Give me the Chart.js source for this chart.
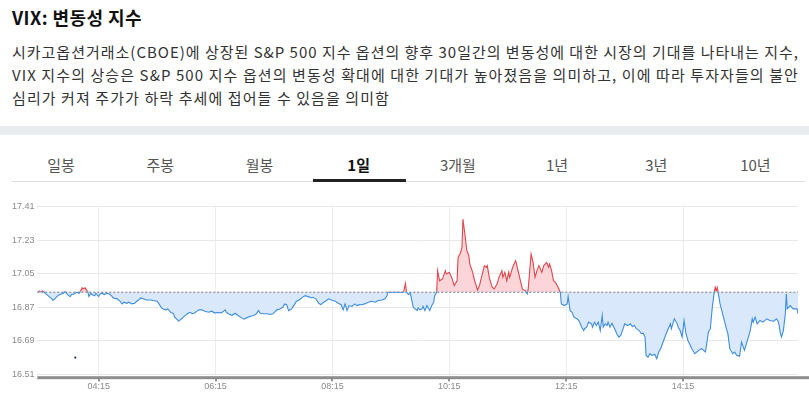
<!DOCTYPE html>
<html><head><meta charset="utf-8">
<script src="https://cdn.jsdelivr.net/npm/chart.js@4/dist/chart.umd.min.js"></script>
<style>
html,body{margin:0;padding:0;background:#fff;width:809px;height:397px;overflow:hidden;font-family:'Noto Sans CJK KR','Noto Sans',sans-serif;}
#title{position:absolute;left:12px;top:4px;font-size:18px;font-weight:bold;color:#111;white-space:nowrap;line-height:26px;}
.desc{position:absolute;left:12px;font-size:15px;color:#333;white-space:nowrap;line-height:20px;}
#band{position:absolute;left:0;top:126px;width:809px;height:9px;background:#e9ecef;}
#tabs{position:absolute;left:11.5px;top:153px;width:793.5px;height:28px;display:flex;border-bottom:1px solid #dcdcdc;}
.tab{flex:1;text-align:center;font-size:15px;color:#555;line-height:24px;position:relative;}
.tab.on{color:#111;font-weight:bold;}
.tab.on:after{content:'';position:absolute;left:4px;right:2px;bottom:-1px;height:3px;background:#222;}
#wrap{position:absolute;left:0;top:188px;width:809px;height:209px;}
</style></head>
<body>
<div id="title" data-w="130">VIX: 변동성 지수</div>
<div class="desc" style="top:42px" data-w="787">시카고옵션거래소(CBOE)에 상장된 S&amp;P 500 지수 옵션의 향후 30일간의 변동성에 대한 시장의 기대를 나타내는 지수,</div>
<div class="desc" style="top:65px" data-w="787">VIX 지수의 상승은 S&amp;P 500 지수 옵션의 변동성 확대에 대한 기대가 높아졌음을 의미하고, 이에 따라 투자자들의 불안</div>
<div class="desc" style="top:88px" data-w="378">심리가 커져 주가가 하락 추세에 접어들 수 있음을 의미함</div>
<div id="band"></div>
<div id="tabs"></div>
<div id="wrap"><canvas id="c" width="809" height="209"></canvas></div>
<script>
const tabLabels = ['일봉','주봉','월봉','1일','3개월','1년','3년','10년'];
const activeTab = '1일';

const minuteOfDay = [192,194,195,197,198,199,200,203,207,208,210,212,215,219,220,222,224,226,227,230,232,235,237,238,239,241,243,244,245,247,248,251,252,255,256,258,261,263,266,268,270,274,277,279,281,284,286,289,292,294,296,298,301,304,308,311,315,317,319,321,324,326,329,332,333,336,337,340,342,344,346,349,351,353,356,358,361,364,368,371,374,378,381,385,386,388,392,395,398,402,404,407,410,414,417,419,421,424,428,431,434,438,441,444,446,448,450,453,456,458,461,464,467,470,474,475,478,481,483,486,488,491,494,498,501,504,506,508,510,512,515,518,520,523,525,528,532,535,539,542,546,549,551,552,560,568,570,571,573,575,576,578,580,582,583,585,587,588,590,592,593,595,597,599,600,602,603,605,608,611,612,615,618,620,623,624,626,628,629,631,633,635,636,639,641,644,646,648,651,653,654,656,659,661,664,666,669,670,672,674,676,677,680,683,684,686,688,690,693,695,696,699,701,703,705,707,710,712,715,717,718,720,722,724,725,727,729,730,733,736,737,739,741,743,746,748,751,753,754,756,758,761,762,764,766,768,770,772,773,775,777,778,780,782,784,787,789,791,794,795,798,801,803,805,807,810,812,814,816,817,819,821,823,826,828,830,832,835,837,839,842,843,846,849,850,852,854,856,858,860,864,867,871,874,878,881,883,885,887,888,889,890,891,893,896,900,901,903,906,908,910,913,915,918,920,924,926,927,929,931,934,937,941,944,948,951,953,955,956,958,960,961,962,965,968,972,973];
const vixValues = [16.950,16.957,16.952,16.957,16.952,16.955,16.945,16.932,16.915,16.906,16.915,16.927,16.938,16.945,16.954,16.945,16.932,16.927,16.938,16.941,16.950,16.945,16.963,16.974,16.968,16.974,16.959,16.950,16.927,16.945,16.938,16.932,16.945,16.927,16.938,16.945,16.938,16.945,16.941,16.932,16.920,16.915,16.902,16.888,16.897,16.891,16.897,16.888,16.891,16.902,16.909,16.920,16.915,16.909,16.909,16.906,16.902,16.888,16.870,16.861,16.856,16.861,16.843,16.835,16.817,16.803,16.795,16.808,16.817,16.826,16.835,16.843,16.835,16.838,16.849,16.856,16.856,16.849,16.843,16.849,16.840,16.842,16.840,16.856,16.843,16.835,16.827,16.838,16.826,16.813,16.806,16.813,16.820,16.826,16.835,16.852,16.838,16.835,16.835,16.831,16.835,16.856,16.861,16.870,16.888,16.884,16.852,16.861,16.884,16.902,16.909,16.923,16.932,16.927,16.920,16.923,16.915,16.891,16.884,16.897,16.902,16.915,16.909,16.902,16.891,16.884,16.856,16.888,16.852,16.879,16.874,16.888,16.879,16.884,16.883,16.888,16.897,16.902,16.897,16.906,16.909,16.915,16.932,16.950,16.950,16.950,16.998,16.950,16.938,16.945,16.920,16.870,16.861,16.852,16.867,16.856,16.861,16.874,16.852,16.879,16.870,16.852,16.879,16.897,16.932,16.950,17.066,17.012,17.022,17.066,17.048,17.057,17.022,16.986,17.012,17.137,17.155,17.190,17.342,17.262,17.173,17.146,17.102,17.057,17.012,16.963,16.986,17.030,17.093,17.084,17.093,17.030,16.977,16.968,16.995,17.030,17.066,17.030,17.057,17.012,17.057,17.030,17.084,17.119,17.102,17.057,17.012,16.968,16.959,16.941,16.968,17.155,17.110,17.030,17.066,17.093,17.057,17.093,17.110,17.084,17.102,17.066,17.012,17.003,16.995,16.973,16.950,16.888,16.879,16.888,16.927,16.852,16.843,16.817,16.808,16.799,16.763,16.745,16.755,16.763,16.790,16.781,16.763,16.790,16.772,16.790,16.745,16.826,16.763,16.781,16.772,16.790,16.763,16.784,16.763,16.728,16.710,16.719,16.763,16.781,16.772,16.781,16.767,16.772,16.755,16.745,16.728,16.731,16.710,16.612,16.603,16.621,16.612,16.617,16.594,16.630,16.648,16.692,16.719,16.745,16.781,16.755,16.808,16.781,16.763,16.745,16.710,16.799,16.728,16.692,16.648,16.621,16.639,16.648,16.630,16.736,16.755,16.870,16.950,16.977,16.959,16.977,16.950,16.888,16.826,16.745,16.728,16.648,16.621,16.630,16.612,16.607,16.683,16.639,16.674,16.745,16.808,16.790,16.817,16.781,16.799,16.790,16.808,16.799,16.795,16.808,16.790,16.728,16.710,16.745,16.835,16.941,16.861,16.879,16.861,16.861,16.835];
const previousClose = 16.95;
const yTickValues = [16.51, 16.69, 16.87, 17.05, 17.23, 17.41];
const xTickLabels = ['04:15', '06:15', '08:15', '10:15', '12:15', '14:15'];
const strayTimes = ['03:51'];
const strayValues = [16.60];

// tabs
const tabs = document.getElementById('tabs');
tabLabels.forEach(t => { const d = document.createElement('div'); d.className = 'tab' + (t === activeTab ? ' on' : ''); d.textContent = t; tabs.appendChild(d); });
// fit text widths
document.querySelectorAll('[data-w]').forEach(el => {
  const target = +el.dataset.w; const w = el.getBoundingClientRect().width; const n = el.textContent.length;
  el.style.letterSpacing = ((target - w) / n) + 'px';
});

const toMin = s => parseInt(s.slice(0, 2), 10) * 60 + parseInt(s.slice(3), 10);
const fmt = m => String(Math.floor(m / 60)).padStart(2, '0') + ':' + String(Math.round(m % 60)).padStart(2, '0');
const series = minuteOfDay.map((m, i) => ({ x: m, y: vixValues[i] }));
const xMin = minuteOfDay[0], xMax = minuteOfDay[minuteOfDay.length - 1];

const RED = '#e0464e', BLUE = '#3d8de0';
const splitPlugin = {
  id: 'split',
  beforeDatasetDraw(chart, args) {
    if (args.index !== 1 && args.index !== 2) return;
    const y = chart.scales.y.getPixelForValue(previousClose);
    const a = chart.chartArea, c = chart.ctx;
    c.save(); c.beginPath();
    if (args.index === 1) c.rect(a.left, a.top - 10, a.right - a.left, (y - 0.7) - (a.top - 10));
    else c.rect(a.left, y - 0.7, a.right - a.left, a.bottom - y + 10);
    c.clip();
  },
  afterDatasetDraw(chart, args) {
    if (args.index !== 1 && args.index !== 2) return;
    chart.ctx.restore();
  },
  afterDraw(chart) {
    const a = chart.chartArea, c = chart.ctx;
    c.save();
    c.fillStyle = '#8e8e8e';
    c.fillRect(a.left, a.bottom + 1.8, chart.width - a.left, 3);
    c.fillStyle = '#333';
    chart.scales.x.ticks.forEach(t => {
      const px = Math.round(chart.scales.x.getPixelForValue(t.value));
      c.fillRect(px - 0.5, a.bottom + 4.5, 1, 2.5);
    });
    c.restore();
  }
};

new Chart(document.getElementById('c'), {
  type: 'line',
  data: {
    datasets: [
      { data: [{ x: xMin, y: previousClose }, { x: xMax, y: previousClose }], borderColor: '#8f98a3', borderWidth: 1.4, borderDash: [2, 2], pointRadius: 0, fill: false, order: 5 },
      { data: series, borderColor: RED, borderWidth: 1.1, pointRadius: 0, tension: 0,
        fill: { target: { value: previousClose }, above: '#fbd5d7', below: 'rgba(0,0,0,0)' }, order: 2 },
      { data: series, borderColor: BLUE, borderWidth: 1.1, pointRadius: 0, tension: 0,
        fill: { target: { value: previousClose }, above: 'rgba(0,0,0,0)', below: '#d9e9fb' }, order: 3 },
      { data: strayTimes.map((t, i) => ({ x: toMin(t), y: strayValues[i] })), showLine: false, pointRadius: 1.1, pointBackgroundColor: '#1d2b6e', pointBorderWidth: 0, order: 0 }
    ]
  },
  options: {
    responsive: false, animation: false, devicePixelRatio: 1,
    layout: { padding: { left: 12, right: 11, top: 18.5, bottom: 0 } },
    plugins: { legend: { display: false }, tooltip: { enabled: false }, filler: { drawTime: 'beforeDatasetsDraw' } },
    scales: {
      x: {
        type: 'linear', min: xMin, max: xMax,
        afterBuildTicks: s => { s.ticks = xTickLabels.map(l => ({ value: toMin(l) })); },
        ticks: { callback: v => fmt(v), color: '#8a8a8a', font: { size: 9, family: 'Liberation Sans' }, padding: 7, maxRotation: 0, autoSkip: false },
        grid: { color: '#ededed', drawTicks: false }, border: { display: false },
        afterFit: s => { s.height = 22.6; }
      },
      y: {
        min: yTickValues[0], max: yTickValues[yTickValues.length - 1],
        afterBuildTicks: s => { s.ticks = yTickValues.map(v => ({ value: v })); },
        ticks: { callback: v => Number(v).toFixed(2), crossAlign: 'far', color: '#8a8a8a', font: { size: 9, family: 'Liberation Sans' }, padding: 0 },
        grid: { color: '#e8e8e8', drawTicks: false }, border: { display: false },
        afterFit: s => { s.width = 25.3; }
      }
    }
  },
  plugins: [splitPlugin]
});
</script>
</body></html>
